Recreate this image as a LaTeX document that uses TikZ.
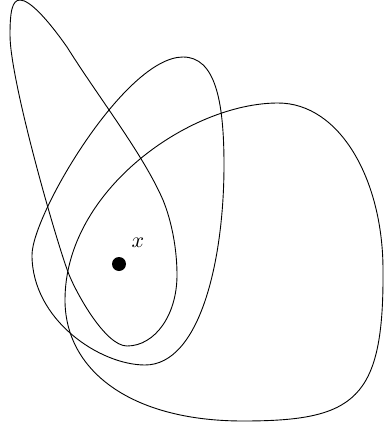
\documentclass[tikz,border=0pt]{standalone}
\begin{document}
\begin{tikzpicture}[x=1pt,y=-1pt,curve/.style={line width=0.9pt,black}]
\useasboundingbox (0,0) rectangle (383,431);
% tall loop
\draw[curve] (20,0) .. controls (30,0) and (48,20) .. (67,47)
  .. controls (99,98) and (143,154) .. (163,200)
  .. controls (172,222) and (177,250) .. (177,275)
  .. controls (177,315) and (155,346) .. (127,346)
  .. controls (105,346) and (75,291) .. (68,272)
  .. controls (55,237) and (10,80) .. (10,35)
  .. controls (10,12) and (12,0) .. (20,0) -- cycle;
% middle loop
\draw[curve] (183,57) .. controls (215,57) and (224,100) .. (224,165)
  .. controls (224,260) and (200,365) .. (145,365)
  .. controls (100,365) and (32,320) .. (32,255)
  .. controls (32,215) and (125,57) .. (183,57) -- cycle;
% big loop
\draw[curve] (278,103) .. controls (340,103) and (383,180) .. (383,270)
  .. controls (384,400) and (355,421) .. (243,421)
  .. controls (130,421) and (65,370) .. (65,300)
  .. controls (65,190) and (190,103) .. (278,103) -- cycle;
\fill (119,264) circle (7);
\node[scale=2.2] (lbl) at (138,243) {$x$};
\end{tikzpicture}
\end{document}
